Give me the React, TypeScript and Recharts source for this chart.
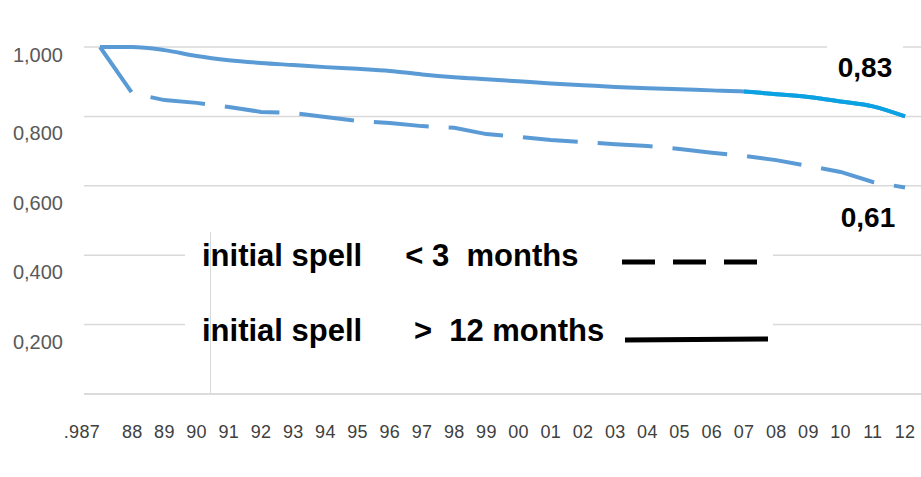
import React from 'react'
import { LineChart, Line, XAxis, YAxis, CartesianGrid, Legend, LabelList } from 'recharts'

// years 1987 .. 2012 (first label is cut off in the original)
const years = ['.987', '88', '89', '90', '91', '92', '93', '94', '95', '96', '97', '98', '99',
  '00', '01', '02', '03', '04', '05', '06', '07', '08', '09', '10', '11', '12']

// initial spell > 12 months
const longSpell = [1.0, 1.0, 0.991, 0.974, 0.962, 0.954, 0.948, 0.942, 0.937, 0.931, 0.921, 0.913, 0.907,
  0.901, 0.895, 0.89, 0.885, 0.881, 0.878, 0.875, 0.872, 0.864, 0.856, 0.843, 0.829, 0.8]

// initial spell < 3 months
const shortSpell = [1.0, 0.867, 0.847, 0.839, 0.827, 0.813, 0.81, 0.798, 0.787, 0.781, 0.772, 0.767, 0.749,
  0.741, 0.732, 0.726, 0.72, 0.715, 0.706, 0.695, 0.686, 0.674, 0.657, 0.64, 0.611, 0.595]

const yTicks = [0, 0.2, 0.4, 0.6, 0.8, 1.0]
const endLabels = { long: '0,83', short: '0,61' }
const seriesNames = {
  short: 'initial spell     < 3  months',
  long: 'initial spell      >  12 months',
}

// the last part of the long-spell line is drawn in a brighter blue
const tailFrom = 20

const data = years.map((year, i) => ({
  year,
  long: longSpell[i],
  longTail: i >= tailFrom ? longSpell[i] : null,
  short: shortSpell[i],
}))

const lastIdx = years.length - 1
const blue = '#5B9BD5'
const font = '"Liberation Sans", Arial, sans-serif'

const YTick = (props: any) => {
  const { y, payload } = props
  if (payload.value === 0) return null
  const fmt = payload.value.toFixed(3).replace('.', ',')
  return (
    <text x={63} y={y + (payload.value === 1 ? 8 : 17)} textAnchor="end" dominantBaseline="central"
      fontSize={20} fill="#595959" fontFamily={font}>
      {fmt}
    </text>
  )
}

const XTick = (props: any) => {
  const { x, y, payload, index } = props
  return (
    <text x={x} y={y + 30} textAnchor={index === 0 ? 'end' : 'middle'} dominantBaseline="central"
      fontSize={18} letterSpacing={0.3} fill="#404040" fontFamily={font}>
      {payload.value}
    </text>
  )
}

const longEnd = (props: any) => {
  const { x, y, index } = props
  if (index !== lastIdx) return null
  return (
    <g>
      <rect x={x - 78} y={y - 72} width={76} height={40} fill="#fff" />
      <text x={x - 40} y={y - 39} textAnchor="middle" fontSize={28} fontWeight="bold" fontFamily={font} fill="#000">
        {endLabels.long}
      </text>
    </g>
  )
}

const shortEnd = (props: any) => {
  const { x, y, index } = props
  if (index !== lastIdx) return null
  return (
    <text x={x - 37} y={y + 39} textAnchor="middle" fontSize={28} fontWeight="bold" fontFamily={font} fill="#000">
      {endLabels.short}
    </text>
  )
}

const rowText: React.CSSProperties = {
  position: 'absolute', left: 17, whiteSpace: 'pre', fontFamily: font,
  fontWeight: 'bold', fontSize: 31, lineHeight: '30px', color: '#000',
}

const renderLegend = () => (
  <div style={{ position: 'relative', width: 588, height: 128 }}>
    <div style={{ position: 'absolute', left: 25, top: 0, width: 1, height: 162, background: '#d9d9d9' }} />
    <div style={{ ...rowText, top: 9 }}>{seriesNames.short}</div>
    <div style={{ ...rowText, top: 84 }}>{seriesNames.long}</div>
    <svg style={{ position: 'absolute', left: 0, top: 0 }} width={588} height={128}>
      <line x1={437} x2={583} y1={30} y2={30} stroke="#000" strokeWidth={5} strokeDasharray="33 18" />
      <line x1={440} x2={583} y1={108} y2={107} stroke="#000" strokeWidth={5} />
    </svg>
  </div>
)

export default function App() {
  return (
    <div style={{ position: 'absolute', left: 0, top: 0, background: '#fff' }}>
      <LineChart width={921} height={477} data={data} margin={{ top: 47, right: 0, bottom: 0, left: 0 }}>
        <CartesianGrid vertical={false} stroke="#d9d9d9" strokeWidth={1.5} />
        <XAxis dataKey="year" interval={0} padding={{ left: 16, right: 16 }} height={83}
          tickLine={false} axisLine={{ stroke: '#d9d9d9', strokeWidth: 1.5 }} tick={<XTick />} />
        <YAxis domain={[0, 1]} ticks={yTicks} width={84} axisLine={false} tickLine={false} tick={<YTick />} />
        <Legend content={renderLegend} layout="horizontal" verticalAlign="middle" align="center"
          wrapperStyle={{ left: 185, top: 232, width: 588, height: 128, background: '#fff' }} />
        <Line dataKey="short" name={seriesNames.short} stroke={blue} strokeWidth={4} strokeDasharray="55 20"
          dot={false} isAnimationActive={false} type="linear">
          <LabelList dataKey="short" content={shortEnd} />
        </Line>
        <Line dataKey="long" name={seriesNames.long} stroke={blue} strokeWidth={4}
          dot={false} isAnimationActive={false} type="monotone">
          <LabelList dataKey="long" content={longEnd} />
        </Line>
        <Line dataKey="longTail" stroke="#0AA2E2" strokeWidth={4} legendType="none"
          dot={false} isAnimationActive={false} type="monotone" connectNulls={false} />
      </LineChart>
    </div>
  )
}
